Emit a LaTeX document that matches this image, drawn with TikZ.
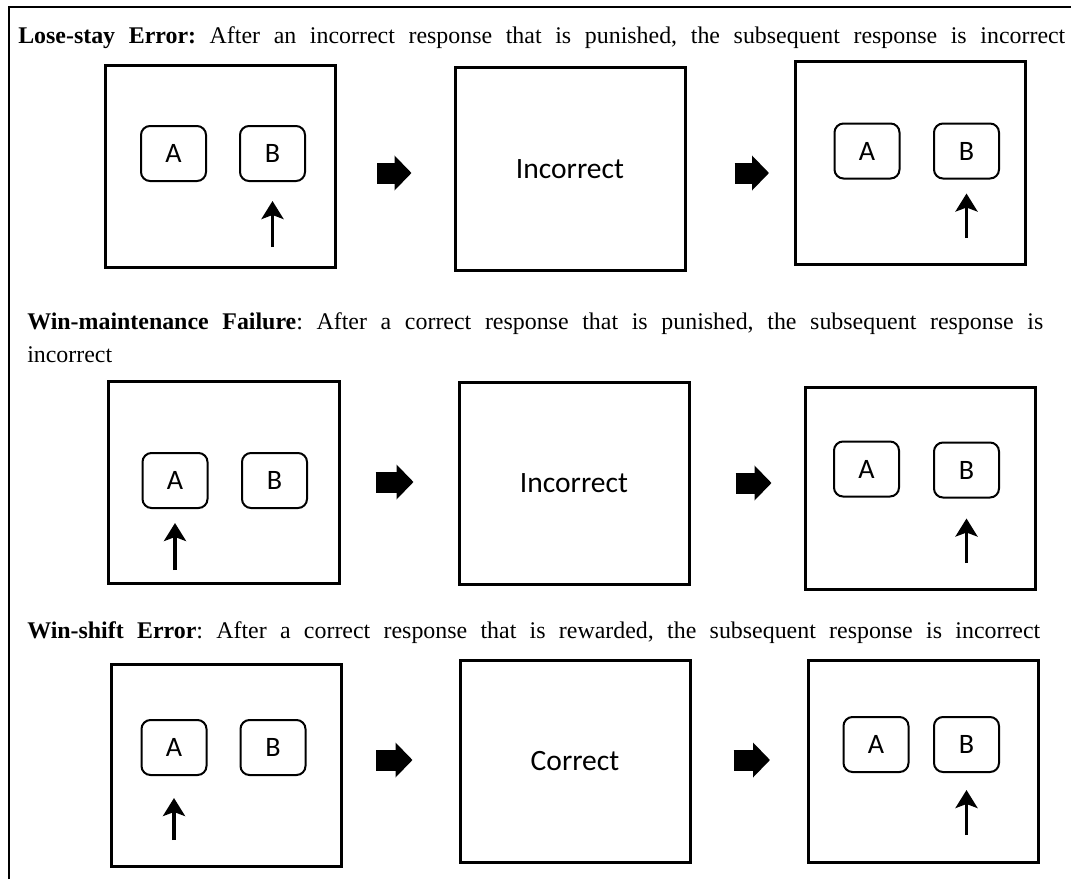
\documentclass[tikz,border=0pt]{standalone}
\usepackage{fontspec}
\setmainfont{Liberation Serif}
\newfontfamily\calibri{Carlito}
\usetikzlibrary{positioning,arrows.meta}
\tikzstyle{screen}=[rectangle, draw=black, line width=0.75mm, minimum width=57.5mm,
minimum height=50.5mm, inner sep=0pt, font=\calibri\fontsize{21}{25}\selectfont]
\tikzstyle{key}=[rectangle, draw=black, rounded corners=2.25mm, line width=0.5mm,
minimum width=16.25mm, minimum height=13.75mm, inner sep=0pt, font=\calibri\fontsize{20}{24}\selectfont]
\tikzstyle{pick}=[line width=0.95mm, -{Stealth[length=4.5mm, width=5.5mm, inset=1mm]}]
\tikzstyle{go}=[line width=5.25mm, -{Triangle[length=4.25mm, width=8.5mm]}]
\tikzstyle{title}=[anchor=base west, inner sep=0pt, font=\fontsize{17}{20}\selectfont\frenchspacing]

\begin{document}
\begin{tikzpicture}[x=0.25mm, y=-0.25mm]
            \useasboundingbox (0,0) rectangle (1071,879);
            \draw[line width=0.7mm] (9,879) -- (9,7) -- (1071,7);

            % lose-stay error
            \node[title] (t1) at (18,43)
                {\makebox[261.75mm][s]{\textbf{Lose-stay Error:} After an incorrect response that is punished, the subsequent response is incorrect}};
            \node[screen] (s11) at (220.5,166.5) {};
            \node[key] (k11a) at (173.5,153.5) {A};
            \node[key] (k11b) at (272.5,153.5) {B};
            \node[screen] (s12) at (570,169) {Incorrect};
            \node[screen] (s13) at (910.5,163) {};
            \node[key] (k13a) at (867,151) {A};
            \node[key] (k13b) at (966.5,151) {B};
            \coordinate (p11) at (k11b |- 0,247);
            \coordinate (p13) at (k13b |- 0,238);
            \draw[pick, shorten >=4.75mm] (p11) -- (k11b);
            \draw[pick, shorten >=3.5mm] (p13) -- (k13b);
            \draw[go, shorten <=10mm, shorten >=10.5mm] (s11.east |- 0,173) -- (s12.west |- 0,173);
            \draw[go, shorten <=12mm, shorten >=6.25mm] (s12.east |- 0,173) -- (s13.west |- 0,173);

            % win-maintenance failure
            \node[title] (t2) at (27,329)
                {\makebox[254mm][s]{\textbf{Win-maintenance Failure}: After a correct response that is punished, the subsequent response is}};
            \node[title] (t2b) at ([yshift=-8.25mm]t2.base west) {incorrect};
            \node[screen] (s21) at (224,482.5) {};
            \node[key] (k21a) at (175,480.5) {A};
            \node[key] (k21b) at (274.5,480.5) {B};
            \node[screen] (s22) at (574,483.5) {Incorrect};
            \node[screen] (s23) at (920,488) {};
            \node[key] (k23a) at (866.5,469) {A};
            \node[key] (k23b) at (966.5,470) {B};
            \coordinate (p21) at (k21a |- 0,570);
            \coordinate (p23) at (k23b |- 0,563);
            \draw[pick, shorten >=3.5mm] (p21) -- (k21a);
            \draw[pick, shorten >=5mm] (p23) -- (k23b);
            \draw[go, shorten <=8.75mm, shorten >=11mm] (s21.east |- 0,482) -- (s22.west |- 0,482);
            \draw[go, shorten <=11.25mm, shorten >=8mm] (s22.east |- 0,483) -- (s23.west |- 0,483);

            % win-shift error
            \node[title] (t3) at (27,638)
                {\makebox[253.25mm][s]{\textbf{Win-shift Error}: After a correct response that is rewarded, the subsequent response is incorrect}};
            \node[screen] (s31) at (226.5,765.5) {};
            \node[key] (k31a) at (174,747.5) {A};
            \node[key] (k31b) at (273,747.5) {B};
            \node[screen] (s32) at (575,761) {Correct};
            \node[screen] (s33) at (923.5,761) {};
            \node[key] (k33a) at (876,744.5) {A};
            \node[key] (k33b) at (966.5,744.5) {B};
            \coordinate (p31) at (k31a |- 0,840);
            \coordinate (p33) at (k33b |- 0,835);
            \draw[pick, shorten >=5.5mm] (p31) -- (k31a);
            \draw[pick, shorten >=4.25mm] (p33) -- (k33b);
            \draw[go, shorten <=8.25mm, shorten >=11.5mm] (s31.east |- 0,760) -- (s32.west |- 0,760);
            \draw[go, shorten <=10.5mm, shorten >=9.25mm] (s32.east |- 0,760) -- (s33.west |- 0,760);
        \end{tikzpicture}
\end{document}
